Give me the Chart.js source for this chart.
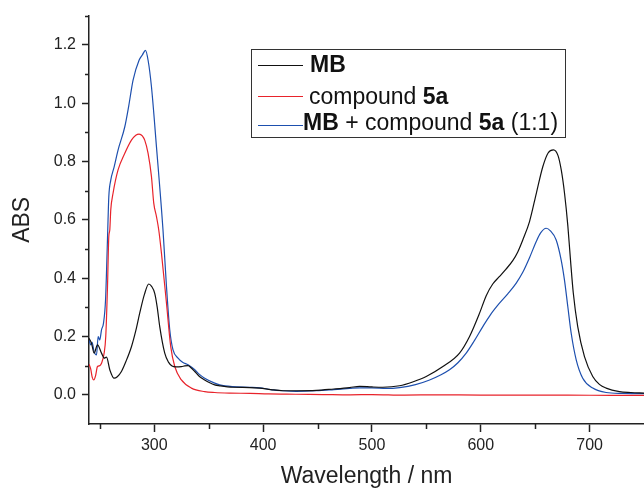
<!DOCTYPE html>
<html>
<head>
<meta charset="utf-8">
<script src="https://cdn.jsdelivr.net/npm/chart.js@4.4.1/dist/chart.umd.min.js"></script>
<style>
  html, body { margin: 0; padding: 0; background: #fff; }
  #wrap { width: 644px; height: 488px; position: relative; }
</style>
</head>
<body>
<div id="wrap"><canvas id="chart"></canvas></div>
<script>
// MB
const mbWl = [240, 242.3, 244.7, 247.8, 251.5, 253.9, 256.1, 259.1, 263.1, 266, 269.8, 274, 279, 283, 286.6, 291, 294.9, 297.5, 300.4, 302.7, 305, 309.6, 313, 316.3, 320, 324.9, 328, 331, 334, 337.2, 341.5, 346.3, 350.5, 355.5, 360.1, 372, 387.7, 396.9, 407, 418.2, 430.5, 448.9, 465, 479.5, 488.7, 500, 510.1, 525.4, 538, 549.9, 565.2, 580.5, 589.7, 598.9, 605, 611, 617, 623, 629.4, 634, 638.6, 644.8, 651, 657, 662, 666.8, 671, 674, 677, 680, 682.5, 685, 689.1, 695.3, 702.9, 709, 715.2, 727.4, 738, 750];
const mbAbs = [0.194, 0.177, 0.143, 0.171, 0.143, 0.126, 0.129, 0.086, 0.057, 0.062, 0.080, 0.115, 0.165, 0.22, 0.28, 0.345, 0.38, 0.372, 0.348, 0.3, 0.234, 0.143, 0.112, 0.099, 0.096, 0.097, 0.099, 0.100, 0.092, 0.080, 0.063, 0.051, 0.042, 0.034, 0.031, 0.026, 0.025, 0.023, 0.018, 0.014, 0.014, 0.015, 0.02, 0.025, 0.029, 0.027, 0.026, 0.031, 0.045, 0.063, 0.097, 0.143, 0.2, 0.28, 0.34, 0.38, 0.405, 0.43, 0.46, 0.49, 0.531, 0.594, 0.69, 0.782, 0.83, 0.84, 0.82, 0.77, 0.69, 0.58, 0.46, 0.35, 0.234, 0.131, 0.063, 0.036, 0.023, 0.011, 0.008, 0.006];

// compound 5a
const cmpWl = [240, 241.5, 243, 244.4, 246, 247.8, 250, 251.5, 253.9, 255.4, 257, 258.2, 259.1, 260, 262.1, 266.7, 272.9, 279, 283, 286, 289, 291.2, 294.3, 297.4, 299.5, 302, 304.1, 306.6, 311.2, 315.1, 318.8, 324.9, 334.1, 346.3, 355.5, 370, 388, 405, 430, 455, 480, 500, 530, 560, 600, 640, 680, 720, 750];
const cmpAbs = [0.105, 0.09, 0.06, 0.051, 0.065, 0.097, 0.1, 0.108, 0.143, 0.2, 0.371, 0.542, 0.565, 0.634, 0.691, 0.771, 0.828, 0.873, 0.89, 0.894, 0.888, 0.873, 0.828, 0.748, 0.657, 0.611, 0.565, 0.485, 0.314, 0.165, 0.097, 0.051, 0.023, 0.011, 0.008, 0.006, 0.005, 0.003, 0.002, 0.001, 0.0, 0.001, -0.001, 0.0, -0.001, -0.001, -0.001, -0.002, -0.002];

// MB + compound 5a (1:1)
const mixWl = [240, 241.7, 242.8, 244.7, 246.9, 248.4, 249.9, 251.5, 253.3, 255.2, 256.6, 257.5, 258.2, 260, 263, 266.7, 272.9, 276.5, 280.5, 286, 289, 291.9, 294.3, 297.4, 302, 308, 311.2, 314.2, 317.2, 321.8, 326, 331, 337.2, 341.5, 346.3, 355.5, 360.1, 372, 387.7, 396.9, 407, 418.2, 430.5, 448.9, 465, 479.5, 488.7, 500, 513.2, 525.4, 540, 553, 563, 571.3, 579, 586.6, 594, 601.9, 609, 617.2, 625, 632.6, 638.6, 644.8, 650.9, 655, 660.1, 664, 669.3, 673.9, 676.9, 680, 683.1, 687.7, 693.7, 702.9, 715.2, 730, 750];
const mixAbs = [0.188, 0.171, 0.18, 0.148, 0.137, 0.2, 0.188, 0.223, 0.245, 0.325, 0.485, 0.6, 0.679, 0.736, 0.78, 0.839, 0.919, 0.99, 1.079, 1.147, 1.165, 1.181, 1.147, 1.056, 0.85, 0.565, 0.371, 0.223, 0.154, 0.126, 0.112, 0.103, 0.086, 0.07, 0.057, 0.040, 0.034, 0.028, 0.026, 0.024, 0.018, 0.014, 0.012, 0.014, 0.018, 0.022, 0.024, 0.024, 0.022, 0.025, 0.035, 0.051, 0.068, 0.086, 0.11, 0.143, 0.185, 0.234, 0.275, 0.314, 0.347, 0.383, 0.42, 0.47, 0.525, 0.555, 0.571, 0.562, 0.531, 0.462, 0.394, 0.302, 0.211, 0.12, 0.057, 0.023, 0.008, 0.005, 0.004];

const xTicks = [300, 400, 500, 600, 700];
const xMinor = [250, 350, 450, 550, 650];
const yTicks = [0, 0.2, 0.4, 0.6, 0.8, 1.0, 1.2];
const yMinor = [0.1, 0.3, 0.5, 0.7, 0.9, 1.1, 1.3];

// legend entries: [text, bold] pieces
const legendRows = [
  [["MB", true]],
  [["compound ", false], ["5a", true]],
  [["MB", true], [" + compound ", false], ["5a", true], [" (1:1)", false]],
];

const FONT = "'Liberation Sans', Arial, Helvetica, sans-serif";
const colors = ["#111111", "#e8232b", "#1d4fae"];

const toPts = (xs, ys) => xs.map((x, i) => ({ x: x, y: ys[i] }));

const minorTicks = {
  id: "minorTicks",
  afterDraw(chart) {
    const ctx = chart.ctx;
    const { x, y } = chart.scales;
    ctx.save();
    ctx.strokeStyle = "#222";
    ctx.lineWidth = 1.5;
    ctx.beginPath();
    yMinor.forEach((v) => {
      const py = Math.round(y.getPixelForValue(v)) + 0.5;
      ctx.moveTo(x.left - 4, py);
      ctx.lineTo(x.left, py);
    });
    xMinor.forEach((v) => {
      const px = Math.round(x.getPixelForValue(v)) + 0.5;
      ctx.moveTo(px, y.bottom);
      ctx.lineTo(px, y.bottom + 5);
    });
    ctx.stroke();
    ctx.restore();
  },
};

const richLegend = {
  id: "richLegend",
  afterDraw(chart) {
    const ctx = chart.ctx;
    const box = { l: 251, t: 49, r: 565, b: 137 };
    const lineY = [65, 96, 125];
    const textY = [72, 104, 130];
    const textX = [310, 309, 303];
    ctx.save();
    ctx.fillStyle = "#fff";
    ctx.fillRect(box.l, box.t, box.r - box.l, box.b - box.t);
    ctx.strokeStyle = "#333";
    ctx.lineWidth = 1;
    ctx.strokeRect(box.l + 0.5, box.t + 0.5, box.r - box.l, box.b - box.t);
    legendRows.forEach((row, i) => {
      ctx.strokeStyle = colors[i];
      ctx.lineWidth = 1.2;
      ctx.beginPath();
      ctx.moveTo(258, lineY[i] + 0.5);
      ctx.lineTo(303, lineY[i] + 0.5);
      ctx.stroke();
      let cx = textX[i];
      ctx.fillStyle = "#111";
      ctx.textBaseline = "alphabetic";
      row.forEach(([txt, bold]) => {
        ctx.font = (bold ? "bold " : "") + "23px " + FONT;
        ctx.fillText(txt, cx, textY[i]);
        cx += ctx.measureText(txt).width;
      });
    });
    ctx.restore();
  },
};

new Chart(document.getElementById("chart"), {
  type: "line",
  data: {
    datasets: [
      { label: "MB", data: toPts(mbWl, mbAbs) },
      { label: "compound 5a", data: toPts(cmpWl, cmpAbs) },
      { label: "MB + compound 5a (1:1)", data: toPts(mixWl, mixAbs) },
    ].map((d, i) => ({
      ...d,
      borderColor: colors[i],
      backgroundColor: colors[i],
      borderWidth: 1.2,
      pointRadius: 0,
      cubicInterpolationMode: "monotone",
      fill: false,
    })),
  },
  options: {
    responsive: true,
    maintainAspectRatio: false,
    animation: false,
    layout: { padding: { top: 15, right: 0, left: 0, bottom: 0 } },
    plugins: { legend: { display: false }, tooltip: { enabled: false } },
    scales: {
      x: {
        type: "linear",
        min: 240,
        max: 750,
        afterBuildTicks: (s) => { s.ticks = xTicks.map((v) => ({ value: v })); },
        afterFit: (s) => { s.height = 64; },
        border: { display: true, color: "#222", width: 1.5 },
        grid: { drawOnChartArea: false, drawTicks: true, tickLength: 8, tickColor: "#222", tickWidth: 1.5 },
        ticks: { color: "#222", padding: 4, maxRotation: 0, font: { family: FONT, size: 16 } },
        title: {
          display: true,
          text: "Wavelength / nm",
          color: "#222",
          padding: { top: 0, bottom: 0 },
          font: { family: FONT, size: 23, lineHeight: 1 },
        },
      },
      y: {
        min: -0.1,
        max: 1.3,
        afterBuildTicks: (s) => { s.ticks = yTicks.map((v) => ({ value: v })); },
        afterFit: (s) => { s.width = 89; },
        border: { display: true, color: "#222", width: 1.5 },
        grid: { drawOnChartArea: false, drawTicks: true, tickLength: 7, tickColor: "#222", tickWidth: 1.5 },
        ticks: {
          color: "#222",
          padding: 6,
          font: { family: FONT, size: 16 },
          callback: (v) => v.toFixed(1),
        },
        title: {
          display: true,
          text: "ABS",
          color: "#222",
          padding: { top: 11, bottom: 0 },
          font: { family: FONT, size: 23, lineHeight: 1 },
        },
      },
    },
  },
  plugins: [minorTicks, richLegend],
});
</script>
</body>
</html>
